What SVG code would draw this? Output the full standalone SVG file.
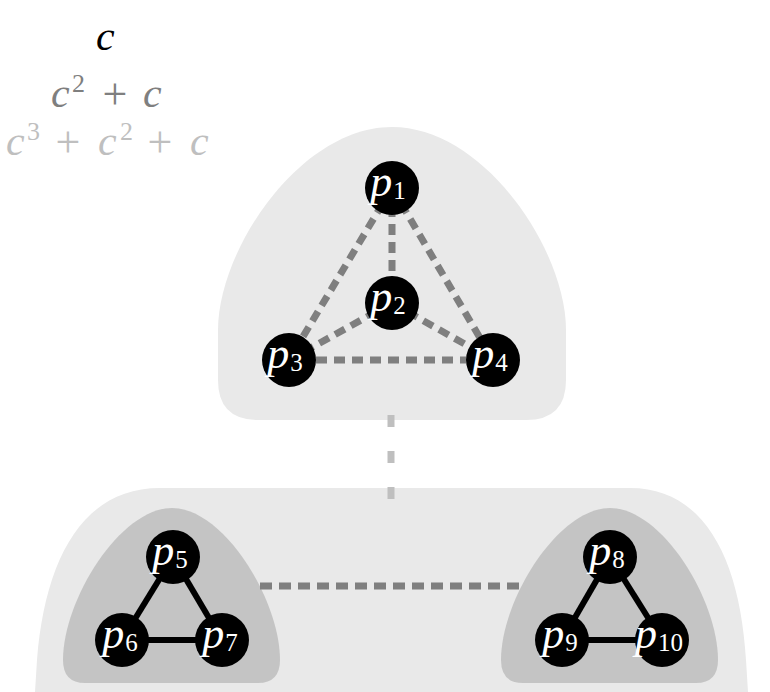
<svg xmlns="http://www.w3.org/2000/svg" width="770" height="692" viewBox="0 0 770 692">
  <defs>
    <style>
      .outer { fill: #e9e9e9; }
      .inner { fill: #c4c4c4; }
      .node circle { fill: #000; }
      .node text { fill: #fff; font-family: "Liberation Serif", "DejaVu Serif", serif; text-anchor: middle; }
      .p { font-style: italic; font-size: 44px; }
      .sub { font-size: 25px; }
      .dash { stroke: #7f7f7f; stroke-width: 7; stroke-dasharray: 11 7; fill: none; }
      .dash-light { stroke: #bfbfbf; stroke-width: 7; stroke-dasharray: 12 24; fill: none; }
      .solid { stroke: #000; stroke-width: 6; fill: none; }
      .math { font-family: "Liberation Serif", "DejaVu Serif", serif; font-size: 42px; }
      .var { font-style: italic; }
      .sup { font-size: 26px; }
      .plus { font-size: 44px; }
    </style>
  </defs>

  <!-- series legend -->
  <g id="legend" class="math">
    <text x="96" y="50" fill="#000" class="var">c</text>
    <g fill="#7f7f7f">
      <text x="51" y="107" class="var">c</text>
      <text x="72" y="92" class="sup">2</text>
      <text x="115" y="109" class="plus" text-anchor="middle">+</text>
      <text x="143" y="107" class="var">c</text>
    </g>
    <g fill="#bfbfbf">
      <text x="6" y="155" class="var">c</text>
      <text x="27" y="140" class="sup">3</text>
      <text x="68" y="157" class="plus" text-anchor="middle">+</text>
      <text x="98" y="155" class="var">c</text>
      <text x="120" y="140" class="sup">2</text>
      <text x="160" y="157" class="plus" text-anchor="middle">+</text>
      <text x="190" y="155" class="var">c</text>
    </g>
  </g>

  <!-- clusters -->
  <g id="cluster-top">
    <path class="outer" d="M258,420 Q218,420 218,380 L218,330 C218,250 300,127 392,127 C484,127 566,250 566,330 L566,380 Q566,420 526,420 Z"/>
  </g>
  <g id="cluster-bottom">
    <path class="outer" d="M35,692 L37,660 C45,560 82,488 160,488 L630,488 C705,488 740,560 746,660 L748,692 Z"/>
  </g>
  <g id="cluster-left">
    <path class="inner" d="M85,683 Q63,683 63,660 C63,600 120,508 172,508 C224,508 280,600 280,660 Q280,683 258,683 Z"/>
  </g>
  <g id="cluster-right">
    <path class="inner" d="M523,683 Q501,683 501,660 C501,600 558,508 610,508 C662,508 718,600 718,660 Q718,683 696,683 Z"/>
  </g>

  <!-- connectors -->
  <g id="connectors">
    <line class="dash-light" x1="391" y1="415" x2="391" y2="500"/>
    <line class="dash" x1="392" y1="188" x2="392" y2="303"/>
    <line class="dash" x1="392" y1="188" x2="289" y2="360"/>
    <line class="dash" x1="392" y1="188" x2="493" y2="360"/>
    <line class="dash" x1="392" y1="303" x2="289" y2="360"/>
    <line class="dash" x1="392" y1="303" x2="493" y2="360"/>
    <line class="dash" x1="316" y1="360" x2="466" y2="360"/>
    <line class="dash" x1="260" y1="586" x2="520" y2="586" style="stroke-dasharray:12 7"/>
    <line class="solid" x1="173" y1="557" x2="122" y2="640"/>
    <line class="solid" x1="173" y1="557" x2="222" y2="640"/>
    <line class="solid" x1="122" y1="640" x2="222" y2="640"/>
    <line class="solid" x1="610" y1="557" x2="562" y2="640"/>
    <line class="solid" x1="610" y1="557" x2="662" y2="640"/>
    <line class="solid" x1="562" y1="640" x2="662" y2="640"/>
  </g>

  <!-- nodes -->
  <g id="p1" class="node"><circle cx="392" cy="188" r="27"/><text x="388" y="196"><tspan class="p">p</tspan><tspan class="sub" dx="1" dy="3">1</tspan></text></g>
  <g id="p2" class="node"><circle cx="392" cy="303" r="27"/><text x="388" y="311"><tspan class="p">p</tspan><tspan class="sub" dx="1" dy="3">2</tspan></text></g>
  <g id="p3" class="node"><circle cx="289" cy="360" r="27"/><text x="285" y="368"><tspan class="p">p</tspan><tspan class="sub" dx="1" dy="3">3</tspan></text></g>
  <g id="p4" class="node"><circle cx="493" cy="360" r="27"/><text x="490" y="368"><tspan class="p">p</tspan><tspan class="sub" dx="1" dy="3">4</tspan></text></g>
  <g id="p5" class="node"><circle cx="173" cy="557" r="27"/><text x="170" y="565"><tspan class="p">p</tspan><tspan class="sub" dx="1" dy="3">5</tspan></text></g>
  <g id="p6" class="node"><circle cx="122" cy="640" r="27"/><text x="120" y="648"><tspan class="p">p</tspan><tspan class="sub" dx="1" dy="3">6</tspan></text></g>
  <g id="p7" class="node"><circle cx="222" cy="640" r="27"/><text x="220" y="648"><tspan class="p">p</tspan><tspan class="sub" dx="1" dy="3">7</tspan></text></g>
  <g id="p8" class="node"><circle cx="610" cy="557" r="27"/><text x="607" y="565"><tspan class="p">p</tspan><tspan class="sub" dx="1" dy="3">8</tspan></text></g>
  <g id="p9" class="node"><circle cx="562" cy="640" r="27"/><text x="560" y="648"><tspan class="p">p</tspan><tspan class="sub" dx="1" dy="3">9</tspan></text></g>
  <g id="p10" class="node"><circle cx="662" cy="640" r="27"/><text x="659" y="648"><tspan class="p">p</tspan><tspan class="sub" dx="1" dy="3">10</tspan></text></g>
</svg>
